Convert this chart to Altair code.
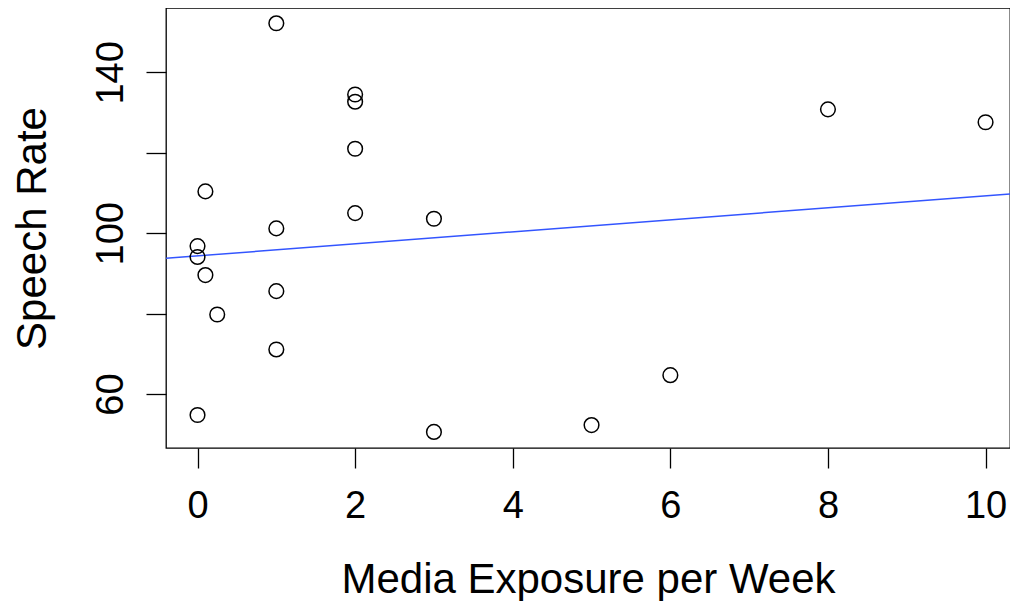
import altair as alt
import pandas as pd

media_exposure = [1, 2, 2, 2, 2, 8, 10, 0.1, 1, 3, 0, 0, 0.1, 0.25, 1, 1, 6, 0, 3, 5]
speech_rate = [152.2, 134.5, 132.7, 121.0, 105.0, 130.8, 127.6, 110.4, 101.2, 103.6,
               96.8, 94.1, 89.6, 79.8, 85.6, 71.1, 64.7, 54.8, 50.6, 52.3]
x_ticks = [0, 2, 4, 6, 8, 10]
y_ticks = [60, 80, 100, 120, 140]

df = pd.DataFrame({"x": media_exposure, "y": speech_rate})

FONT = "Liberation Sans"
x_dom = [-0.40, 10.31]
y_dom = [46.6, 156.0]

xs = alt.Scale(domain=x_dom, nice=False, zero=False)
ys = alt.Scale(domain=y_dom, nice=False, zero=False)

x_axis = alt.Axis(values=x_ticks, format="d", title="Media Exposure per Week", grid=False, domain=False,
                  tickSize=20, tickColor="black", tickWidth=1.3,
                  labelFont=FONT, labelFontSize=38, labelColor="black",
                  labelBaseline="alphabetic", labelPadding=49, labelFlush=False,
                  titleFont=FONT, titleFontSize=42, titleFontWeight="normal", titleColor="black",
                  titleBaseline="alphabetic", titleY=144)
y_axis = alt.Axis(values=y_ticks, format="d", title="Speech Rate", grid=False, domain=False,
                  tickSize=20, tickColor="black", tickWidth=1.3,
                  labelFont=FONT, labelFontSize=38, labelColor="black",
                  labelAngle=270, labelAlign="center", labelBaseline="alphabetic",
                  labelPadding=24, labelFlush=False,
                  labelExpr="datum.value % 40 == 0 ? '' : datum.label",
                  titleFont=FONT, titleFontSize=42, titleFontWeight="normal", titleColor="black",
                  titleAngle=270, titleBaseline="alphabetic", titleX=-121)

points = alt.Chart(df).mark_point(shape="circle", filled=False, size=215,
                                  color="black", strokeWidth=1.5, opacity=1).encode(
    x=alt.X("x:Q", scale=xs, axis=x_axis),
    y=alt.Y("y:Q", scale=ys, axis=y_axis),
)

line = alt.Chart(df).transform_regression("x", "y", extent=x_dom).mark_line(
    color="#3355ff", strokeWidth=1.5, clip=True).encode(
    x=alt.X("x:Q", scale=xs),
    y=alt.Y("y:Q", scale=ys),
)

chart = alt.layer(line, points).properties(
    width=844, height=440,
    autosize=alt.AutoSizeParams(type="none"),
    padding={"left": 158, "top": 0, "right": 0, "bottom": 153},
    background="white",
).configure_view(stroke="black", strokeWidth=1.3)

chart.save("out.html", embed_options={"renderer": "svg", "actions": False})
